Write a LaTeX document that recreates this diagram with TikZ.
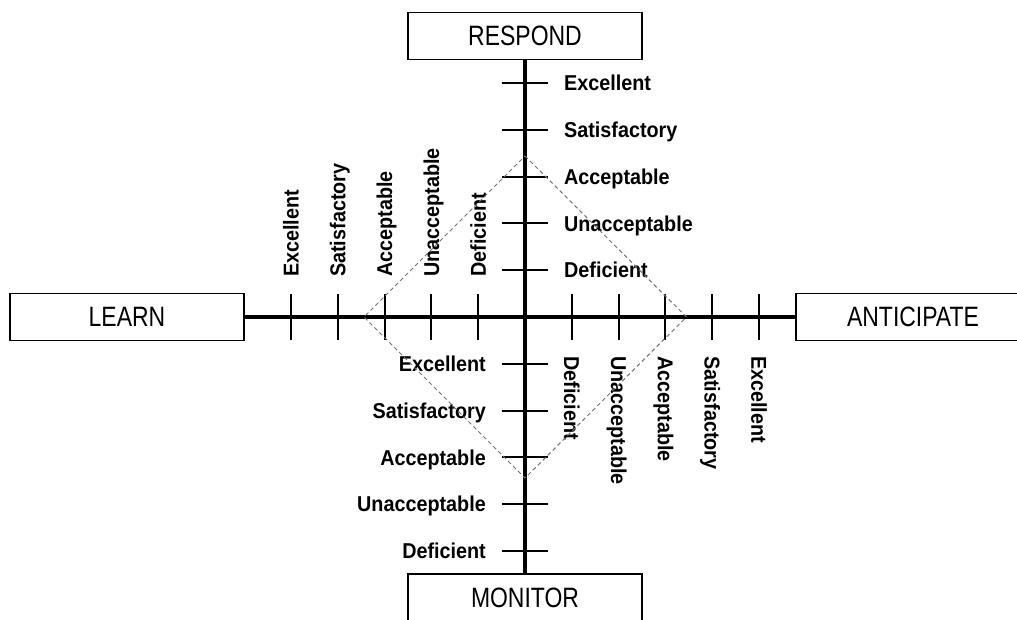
\documentclass[tikz,border=0pt]{standalone}
\usepackage{fontspec}
\setmainfont{Liberation Sans}
\newfontfamily\narrowfont[FakeStretch=0.82]{Liberation Sans}
\newfontfamily\ratingfont[FakeStretch=0.92]{Liberation Sans Bold}

\begin{document}
\begin{tikzpicture}[x=1pt,y=-1pt,
  box/.style={draw, line width=1.8pt, minimum width=234pt, minimum height=47pt,
    inner sep=0pt, font=\narrowfont\fontsize{28}{28}\selectfont},
  axisline/.style={line width=4.5pt},
  tickline/.style={line width=2pt},
  lab/.style={inner sep=0pt, font=\ratingfont\fontsize{21.5}{21.5}\selectfont,
    text height=15.2pt, text depth=0pt},
  dashedline/.style={black!55, line width=1pt, dash pattern=on 4pt off 3pt}]

  % page frame; the right and bottom boxes run past it
  \clip (0,0) rectangle (1017,619);

  % the four boxes
  \node[box] (respond)    at (525,36)    {RESPOND};
  \node[box] (monitor)    at (525,597.5) {MONITOR};
  \node[box] (learn)      at (127,317)   {LEARN};
  \node[box] (anticipate) at (913,317)   {ANTICIPATE};

  % the two main axes
  \draw[axisline] (learn.east) -- (anticipate.west);
  \draw[axisline] (respond.south) -- (monitor.north);

  \coordinate (O) at (525,317);

  % tick positions along each half-axis
  \foreach \k in {1,...,5} {
    \coordinate (up\k) at (525,{317-46.8*\k});
    \coordinate (dn\k) at (525,{317+46.8*\k});
    \coordinate (lf\k) at ({525-46.8*\k},317);
    \coordinate (rt\k) at ({525+46.8*\k},317);
    \draw[tickline] ([xshift=-23pt]up\k) -- ([xshift=23pt]up\k);
    \draw[tickline] ([xshift=-23pt]dn\k) -- ([xshift=23pt]dn\k);
    \draw[tickline] ([yshift=-23pt]lf\k) -- ([yshift=23pt]lf\k);
    \draw[tickline] ([yshift=-23pt]rt\k) -- ([yshift=23pt]rt\k);
  }

  % rating labels
  \foreach \k/\t in {1/Deficient,2/Unacceptable,3/Acceptable,4/Satisfactory,5/Excellent} {
    \node[lab, anchor=west] (ulab\k) at ([xshift=39pt]up\k) {\t};
    \node[lab, rotate=90, anchor=west] (llab\k) at ([yshift=40pt]lf\k) {\t};
    \node[lab, rotate=-90, anchor=west] (rlab\k) at ([yshift=-39pt]rt\k) {\t};
  }
  \foreach \k/\t in {1/Excellent,2/Satisfactory,3/Acceptable,4/Unacceptable,5/Deficient} {
    \node[lab, anchor=east] (dlab\k) at ([xshift=-39pt]dn\k) {\t};
  }

  % dashed diamond around the centre
  \coordinate (dtop) at (525,156);
  \coordinate (dright) at (686.5,317);
  \coordinate (dbottom) at (525,478);
  \coordinate (dleft) at (364,317);
  \draw[dashedline] (dtop) -- (dright) -- (dbottom) -- (dleft) -- cycle;
\end{tikzpicture}
\end{document}
